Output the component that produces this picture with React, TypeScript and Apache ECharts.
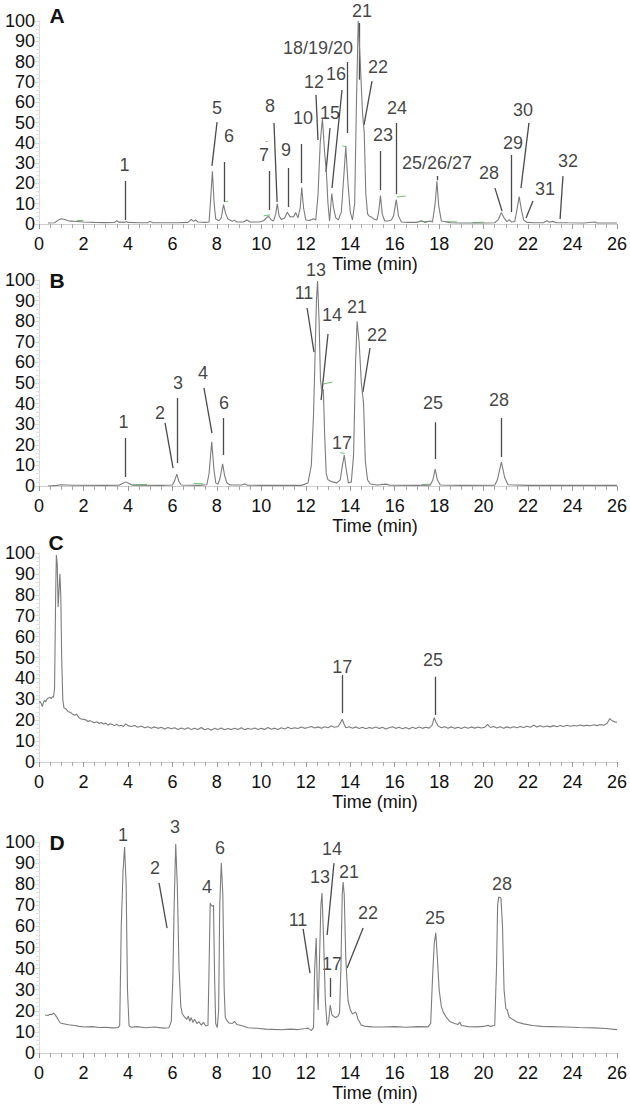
import React, { useEffect, useRef } from "react";
import * as echarts from "echarts";

const FONT = "Liberation Sans, Arial, Helvetica, sans-serif";

const xTicks = [0, 2, 4, 6, 8, 10, 12, 14, 16, 18, 20, 22, 24, 26];
const yTicks = [0, 10, 20, 30, 40, 50, 60, 70, 80, 90, 100];
const panelLetters = ["A", "B", "C", "D"];
const axisTitle = "Time (min)";

// Panel A trace [time(min), relative abundance]
const traceA: number[][] = [
  [0.4, 0.5], [0.7, 0.6], [0.85, 1.8], [1.0, 2.6], [1.15, 2.2], [1.4, 1.4], [1.7, 1.2], [2.0, 1.0], [2.5, 0.8],
  [3.0, 0.7], [3.4, 0.8], [3.5, 1.6], [3.6, 0.9], [3.85, 0.8], [3.92, 1.2], [4.0, 0.8], [4.5, 0.6], [4.9, 0.7],
  [5.0, 1.3], [5.1, 0.7], [5.6, 0.6], [6.2, 0.6], [6.7, 0.8], [6.85, 2.3], [6.95, 1.3], [7.05, 2.0], [7.15, 1.0],
  [7.5, 0.8], [7.65, 1.0], [7.72, 12], [7.8, 26], [7.88, 10], [7.95, 2.5], [8.1, 1.6], [8.2, 3], [8.3, 9.5],
  [8.4, 5], [8.5, 2.5], [8.7, 1.3], [8.78, 1.9], [8.9, 1.0], [9.2, 1.0], [9.35, 2.0], [9.5, 1.0], [9.9, 1.0],
  [10.1, 1.6], [10.25, 3.2], [10.33, 3.8], [10.45, 2.0], [10.55, 1.5], [10.65, 5], [10.72, 10], [10.8, 4],
  [10.9, 2.2], [11.05, 3], [11.17, 5.8], [11.3, 3.5], [11.45, 3.6], [11.55, 5.6], [11.65, 3], [11.75, 8],
  [11.82, 18], [11.9, 8], [12.0, 2.0], [12.2, 1.8], [12.35, 2.6], [12.45, 2.0], [12.55, 14], [12.65, 40],
  [12.75, 52], [12.85, 35], [12.93, 25], [13.0, 10], [13.07, 1.5], [13.12, 8], [13.17, 15], [13.25, 8],
  [13.35, 3], [13.47, 2.0], [13.6, 6], [13.72, 25], [13.8, 38], [13.9, 20], [14.0, 6], [14.1, 2], [14.2, 10],
  [14.28, 60], [14.36, 100], [14.45, 80], [14.55, 55], [14.63, 45], [14.7, 15], [14.78, 5], [14.85, 4],
  [14.95, 3.5], [15.05, 2.5], [15.2, 2], [15.28, 6], [15.36, 14], [15.44, 5], [15.55, 1.5], [15.7, 1.5],
  [15.85, 2.0], [15.95, 4], [16.07, 12], [16.17, 4], [16.3, 1.0], [16.6, 0.8], [17.0, 0.8], [17.2, 1.6],
  [17.35, 0.8], [17.6, 1.5], [17.7, 1.0], [17.82, 10], [17.9, 21], [17.98, 9], [18.1, 1.5], [18.5, 0.6],
  [19.0, 0.5], [19.5, 0.5], [20.0, 0.5], [20.5, 0.6], [20.65, 2], [20.8, 5.5], [20.95, 2.5], [21.05, 1.2],
  [21.15, 2.2], [21.25, 1.0], [21.4, 1.2], [21.5, 7], [21.6, 13.5], [21.7, 7], [21.8, 2], [21.95, 0.8],
  [22.3, 0.6], [22.7, 0.7], [22.85, 1.6], [22.95, 0.9], [23.1, 1.3], [23.25, 0.7], [23.8, 0.6], [24.5, 0.5],
  [25.0, 1.0], [25.1, 0.5], [25.6, 0.5], [26.0, 0.5],
];

const traceB: number[][] = [
  [0.4, 0], [0.8, 0.3], [1.0, 0.6], [1.5, 0.4], [3.0, 0.3], [3.6, 0.4], [3.75, 1.2], [3.9, 2.0], [4.05, 1.2],
  [4.2, 0.4], [5.5, 0.3], [6.0, 0.5], [6.1, 2.5], [6.2, 5.8], [6.3, 2], [6.4, 0.5], [7.2, 0.3], [7.55, 0.6],
  [7.65, 6], [7.77, 21.5], [7.87, 8], [7.95, 1.5], [8.05, 0.8], [8.15, 4], [8.26, 10.7], [8.35, 5], [8.45, 1.5],
  [8.6, 0.5], [9.1, 0.5], [9.25, 1.0], [9.4, 0.4], [10.0, 0.3], [11.0, 0.3], [11.8, 0.3], [12.1, 1.5],
  [12.25, 10], [12.35, 35], [12.42, 64], [12.48, 90], [12.53, 99.5], [12.6, 80], [12.66, 52], [12.72, 46],
  [12.79, 47], [12.85, 25], [12.92, 6], [13.0, 3], [13.2, 2], [13.4, 1.5], [13.55, 3], [13.65, 10], [13.73, 15],
  [13.82, 8], [13.92, 1.5], [14.05, 2], [14.15, 15], [14.24, 60], [14.31, 80], [14.4, 70], [14.5, 50],
  [14.6, 40], [14.68, 12], [14.78, 3], [14.9, 1.0], [15.2, 0.5], [15.6, 0.9], [15.8, 0.4], [17.0, 0.3],
  [17.6, 0.4], [17.72, 3], [17.82, 8.2], [17.92, 3], [18.05, 0.5], [19.0, 0.3], [20.5, 0.4], [20.62, 3],
  [20.8, 11.6], [20.95, 4], [21.1, 0.6], [22.0, 0.3], [24.0, 0.3], [26.0, 0.3],
];

const traceC: number[][] = [
  [0.0, 28.5], [0.05, 29], [0.1, 28], [0.15, 26.5], [0.2, 28.5], [0.25, 29.5], [0.3, 28.8], [0.35, 30],
  [0.4, 30.5], [0.5, 31], [0.55, 30.3], [0.6, 31.2], [0.65, 31], [0.7, 35], [0.75, 80], [0.78, 99], [0.82, 95],
  [0.86, 74], [0.9, 82], [0.94, 90], [0.98, 80], [1.02, 50], [1.07, 30], [1.12, 26], [1.2, 25.5], [1.3, 24.2],
  [1.4, 23.8], [1.5, 23], [1.6, 22.4], [1.7, 22.8], [1.8, 21.2], [1.9, 20.6], [2.0, 20.4], [2.1, 20.2],
  [2.2, 19.4], [2.3, 19.8], [2.4, 19.2], [2.5, 18.8], [2.6, 19.3], [2.7, 18.4], [2.8, 18.9], [2.9, 18.2],
  [3.0, 18.6], [3.1, 17.6], [3.2, 18.3], [3.3, 17.9], [3.4, 17.4], [3.5, 18.1], [3.6, 17.2], [3.7, 17.6],
  [3.8, 17.0], [3.9, 18.2], [4.0, 17.4], [4.15, 17.0], [4.3, 17.5], [4.45, 16.6], [4.6, 17.2], [4.75, 16.4],
  [4.9, 16.9], [5.05, 16.2], [5.2, 16.8], [5.35, 16.1], [5.5, 16.6], [5.65, 15.8], [5.8, 16.5], [5.95, 15.9],
  [6.1, 16.4], [6.25, 15.6], [6.4, 16.3], [6.55, 15.7], [6.7, 16.4], [6.85, 15.5], [7.0, 16.2], [7.15, 15.6],
  [7.3, 16.5], [7.45, 15.4], [7.6, 16.0], [7.75, 15.2], [7.9, 16.1], [8.05, 15.5], [8.2, 16.3], [8.35, 15.4],
  [8.5, 16.0], [8.65, 15.5], [8.8, 16.2], [8.95, 15.6], [9.1, 16.4], [9.25, 15.5], [9.4, 16.0], [9.55, 15.7],
  [9.7, 16.3], [9.85, 15.5], [10.0, 16.1], [10.15, 15.6], [10.3, 16.5], [10.45, 15.7], [10.6, 16.2],
  [10.75, 15.6], [10.9, 16.4], [11.05, 15.8], [11.2, 16.6], [11.35, 15.9], [11.5, 16.4], [11.65, 16.0],
  [11.8, 16.7], [11.95, 16.1], [12.1, 16.5], [12.25, 17.0], [12.4, 16.3], [12.55, 16.8], [12.7, 16.2],
  [12.85, 16.9], [13.0, 16.4], [13.15, 17.2], [13.3, 16.6], [13.45, 17.0], [13.55, 18.5], [13.64, 20.5],
  [13.72, 18.2], [13.8, 16.4], [13.95, 16.9], [14.1, 16.2], [14.25, 16.8], [14.4, 16.0], [14.55, 16.6],
  [14.7, 15.9], [14.85, 16.5], [15.0, 16.1], [15.15, 16.7], [15.3, 16.0], [15.45, 16.6], [15.6, 15.8],
  [15.75, 16.4], [15.9, 16.9], [16.05, 16.1], [16.2, 16.6], [16.35, 15.9], [16.5, 16.5], [16.65, 15.8],
  [16.8, 16.6], [16.95, 16.0], [17.1, 16.7], [17.25, 16.1], [17.4, 16.6], [17.55, 16.2], [17.68, 17.5],
  [17.78, 21.2], [17.86, 19.0], [17.95, 17.2], [18.1, 16.4], [18.25, 16.9], [18.4, 16.2], [18.55, 16.8],
  [18.7, 16.1], [18.85, 16.6], [19.0, 16.0], [19.15, 16.7], [19.3, 16.1], [19.45, 16.8], [19.6, 16.2],
  [19.75, 16.7], [19.9, 16.3], [20.05, 16.6], [20.18, 18.0], [20.3, 16.5], [20.45, 17.0], [20.6, 16.3],
  [20.75, 16.9], [20.9, 16.2], [21.05, 16.8], [21.2, 16.3], [21.35, 16.9], [21.5, 16.4], [21.65, 17.0],
  [21.8, 16.5], [21.95, 17.1], [22.1, 16.6], [22.25, 17.6], [22.4, 16.8], [22.55, 17.3], [22.7, 16.7],
  [22.85, 17.2], [23.0, 16.8], [23.15, 17.4], [23.3, 16.9], [23.45, 17.5], [23.6, 17.0], [23.75, 17.6],
  [23.9, 17.1], [24.05, 17.5], [24.2, 17.2], [24.35, 17.7], [24.5, 17.3], [24.65, 17.6], [24.8, 17.3],
  [24.95, 17.8], [25.1, 17.4], [25.25, 17.9], [25.4, 17.6], [25.55, 18.4], [25.68, 20.8], [25.8, 19.6],
  [25.9, 19.2], [26.0, 19.0],
];

const traceD: number[][] = [
  [0.27, 18], [0.4, 17.8], [0.5, 18.4], [0.6, 18.3], [0.66, 18.9], [0.72, 18.2], [0.8, 17], [0.88, 15.5],
  [0.96, 14.2], [1.1, 13.9], [1.33, 13.4], [1.6, 13.0], [1.8, 12.6], [2.07, 12.3], [2.4, 12.5], [2.7, 12.1],
  [3.0, 12.2], [3.3, 11.9], [3.55, 12.0], [3.63, 13], [3.7, 60], [3.78, 86], [3.85, 97.6], [3.92, 80],
  [3.98, 30], [4.05, 13], [4.15, 12.2], [4.4, 12.5], [4.8, 12.0], [5.2, 12.3], [5.6, 11.8], [5.85, 12.0],
  [5.95, 15], [6.02, 35], [6.08, 70], [6.15, 99], [6.22, 80], [6.3, 40], [6.38, 22], [6.45, 18.5], [6.55, 17],
  [6.65, 16], [6.72, 17.5], [6.78, 15], [6.85, 16.8], [6.92, 14.5], [7.0, 16], [7.1, 14], [7.2, 14.8],
  [7.3, 13.2], [7.4, 14.5], [7.5, 12.8], [7.6, 13], [7.65, 40], [7.7, 71], [7.75, 70], [7.8, 69.5], [7.85, 70],
  [7.9, 35], [7.95, 14], [8.02, 12], [8.08, 20], [8.13, 70], [8.2, 90], [8.27, 75], [8.33, 30], [8.38, 17],
  [8.45, 15.5], [8.55, 14.2], [8.7, 14], [8.8, 15], [8.9, 13.5], [9.1, 13], [9.4, 12], [9.8, 11.7],
  [10.2, 11.3], [10.5, 11.2], [10.9, 11.0], [11.3, 11.3], [11.65, 11.1], [12.0, 11.6], [12.1, 11.8],
  [12.25, 10.6], [12.35, 12], [12.4, 40], [12.47, 54.5], [12.52, 30], [12.56, 20.4], [12.62, 45], [12.68, 70],
  [12.73, 75.8], [12.8, 55], [12.88, 25], [12.96, 13], [13.03, 15], [13.1, 22.7], [13.18, 18], [13.3, 17],
  [13.35, 16.8], [13.45, 17.5], [13.52, 19], [13.58, 40], [13.64, 75], [13.68, 81], [13.73, 75], [13.8, 45],
  [13.9, 25], [14.0, 20.5], [14.1, 18.5], [14.25, 19.5], [14.35, 16], [14.5, 13.2], [14.7, 12.6], [15.0, 12.4],
  [15.5, 12.3], [16.0, 12.5], [16.5, 12.2], [17.0, 12.5], [17.5, 12.4], [17.62, 14], [17.7, 35], [17.78, 52],
  [17.85, 56.9], [17.92, 45], [18.0, 30], [18.1, 22], [18.2, 19], [18.35, 16.5], [18.5, 14.8], [18.7, 14],
  [18.85, 13.5], [18.93, 14.6], [19.0, 13], [19.3, 12.5], [19.7, 12.4], [20.0, 12.6], [20.2, 13.1],
  [20.3, 12.6], [20.5, 13], [20.58, 40], [20.63, 70], [20.68, 73.9], [20.78, 73.5], [20.85, 60], [20.92, 30],
  [21.0, 21], [21.06, 20.5], [21.15, 17], [21.3, 16], [21.5, 14.7], [21.8, 13.8], [22.2, 13], [22.6, 12.6],
  [23.0, 12.5], [23.7, 12.3], [24.3, 12.1], [25.0, 11.9], [25.5, 11.6], [26.0, 11.1],
];

// Peak labels [time, abundance, text] (text centre)
const labelsA: (number | string)[][] = [
  [3.85, 29, "1"], [8.01, 57, "5"], [8.55, 43.3, "6"], [10.12, 34, "7"], [10.39, 58, "8"], [11.11, 36.5, "9"],
  [11.88, 52.2, "10"], [12.37, 70, "12"], [12.55, 86.7, "18/19/20"], [13.36, 73.9, "16"], [13.09, 54.7, "15"],
  [14.53, 104.9, "21"], [15.25, 77.3, "22"], [15.47, 43.8, "23"], [16.1, 57.1, "24"], [17.9, 30, "25/26/27"],
  [20.24, 25.1, "28"], [21.32, 39.9, "29"], [21.77, 56.2, "30"], [22.76, 17.2, "31"], [23.8, 31, "32"],
];
const labelsB: (number | string)[][] = [
  [3.8, 31, "1"], [5.44, 35.4, "2"], [6.25, 50, "3"], [7.38, 54.9, "4"], [8.32, 40.3, "6"], [11.92, 93.7, "11"],
  [12.46, 104.9, "13"], [13.18, 83, "14"], [13.63, 20.9, "17"], [14.3, 86.9, "21"], [15.2, 73.3, "22"],
  [17.72, 40.3, "25"], [20.69, 41.7, "28"],
];
const labelsC: (number | string)[][] = [
  [13.64, 45.6, "17"], [17.72, 48.8, "25"],
];
const labelsD: (number | string)[][] = [
  [3.78, 103.3, "1"], [5.22, 87.7, "2"], [6.12, 107, "3"], [7.56, 78.7, "4"], [8.14, 97.2, "6"],
  [11.65, 63, "11"], [12.64, 83.4, "13"], [13.18, 96.7, "14"], [13.18, 42.2, "17"], [13.95, 85.8, "21"],
  [14.8, 66.4, "22"], [17.81, 64, "25"], [20.83, 80.1, "28"],
];

// Leader lines [t1, v1, t2, v2]
const leadersA: number[][] = [
  [3.87, 21.2, 3.87, 2], [8.01, 50.2, 7.78, 28.6], [8.32, 30.5, 8.32, 10.8], [10.35, 26.1, 10.35, 6.9],
  [10.57, 49.8, 10.71, 10.8], [11.2, 27.6, 11.2, 8.4], [11.79, 39.4, 11.79, 20.2], [12.46, 63.5, 12.55, 41.4],
  [13.86, 79.8, 13.86, 44.8], [13.63, 66, 13.18, 17.7], [13.09, 47.3, 12.91, 25.6], [14.39, 99, 14.39, 71],
  [14.98, 70.4, 14.62, 48.8], [15.34, 36, 15.34, 16.7], [16.06, 49.8, 16.06, 14.8], [17.9, 23.6, 17.9, 21.5],
  [20.51, 17.7, 20.83, 6.4], [21.23, 34, 21.23, 5.9], [22.04, 49.8, 21.68, 17.7], [22.22, 11.3, 21.91, 3],
  [23.57, 23.6, 23.44, 2.5],
];
const leadersB: number[][] = [
  [3.87, 23.3, 3.87, 4.4], [5.67, 30.6, 6.03, 8.7], [6.21, 42.7, 6.21, 11.2], [7.42, 47.6, 7.78, 25.7],
  [8.28, 33, 8.28, 15], [12.06, 86.4, 12.37, 65], [13.0, 73.8, 12.69, 41.7], [14.89, 67, 14.57, 45.6],
  [17.81, 31, 17.81, 13.1], [20.78, 33, 20.78, 14.1],
];
const leadersC: number[][] = [
  [13.64, 41.6, 13.64, 23.4], [17.81, 40.8, 17.81, 22.5],
];
const leadersD: number[][] = [
  [5.4, 80.6, 5.76, 59.2], [11.88, 58.8, 12.19, 37.9], [13.27, 90, 12.96, 55.9], [13.09, 35.5, 13.09, 26.5],
  [14.58, 59.2, 13.86, 40.3],
];

// Small green integration marks [t1, v1, t2, v2]
const greenA: number[][] = [
  [1.7, 2, 2.0, 2], [10.1, 4, 10.4, 4.5], [10.2, 41, 10.28, 41], [8.4, 11, 8.5, 11.3], [13.65, 38.5, 13.85, 38],
  [16.1, 13.3, 16.5, 13.8], [17.15, 1.6, 17.6, 1.6], [18.3, 1.2, 18.8, 1.0], [19.5, 0.7, 20.0, 0.9],
];
const greenB: number[][] = [
  [4.2, 0.6, 4.85, 0.8], [6.95, 1.3, 7.4, 1.0], [12.8, 49.5, 13.2, 50.5], [13.55, 16.2, 13.75, 15.8],
  [17.2, 0.6, 17.6, 0.9],
];

const traces = [traceA, traceB, traceC, traceD];
const labels = [labelsA, labelsB, labelsC, labelsD];
const leaders = [leadersA, leadersB, leadersC, leadersD];
const greens = [greenA, greenB, [], []];

export default function App() {
  const ref = useRef<HTMLDivElement>(null);
  useEffect(() => {
    if (!ref.current) return;
    const chart = echarts.init(ref.current, null, { renderer: "svg" });
    const gridPos = [
      { top: 21, height: 203 },
      { top: 280, height: 206 },
      { top: 553, height: 209 },
      { top: 842, height: 211 },
    ];
    const letterPos = [
      [57, 15],
      [57, 280],
      [56, 542],
      [57, 842],
    ];
    const grid = gridPos.map((g) => ({ left: 39, right: 13, top: g.top, height: g.height }));
    const xAxis = gridPos.map((_, i) => ({
      gridIndex: i,
      type: "value",
      min: xTicks[0],
      max: xTicks[xTicks.length - 1],
      interval: xTicks[1] - xTicks[0],
      axisLine: { show: true, lineStyle: { color: "#cfcfcf", width: 1 } },
      axisTick: { show: true, length: 5, lineStyle: { color: "#9a9a9a" } },
      minorTick: { show: true, splitNumber: 4, length: 4, lineStyle: { color: "#a8a8a8" } },
      splitLine: { show: false },
      axisLabel: { fontSize: 18, color: "#111", margin: 11, fontFamily: FONT },
      name: axisTitle,
      nameLocation: "middle",
      nameGap: 31,
      nameTextStyle: { fontSize: 18, color: "#111", fontFamily: FONT, padding: [0, 0, 0, 94] },
    }));
    const yAxis = gridPos.map((_, i) => ({
      gridIndex: i,
      type: "value",
      min: yTicks[0],
      max: yTicks[yTicks.length - 1],
      interval: yTicks[1] - yTicks[0],
      axisLine: { show: true, lineStyle: { color: "#dcdcdc" } },
      axisTick: { show: true, length: 4, lineStyle: { color: "#d8d8d8" } },
      minorTick: { show: true, splitNumber: 5, length: 3, lineStyle: { color: "#e2e2e2" } },
      splitLine: { show: false },
      axisLabel: { fontSize: 18, color: "#111", margin: 4, fontFamily: FONT },
    }));
    const series: any[] = [];
    traces.forEach((tr, i) => {
      series.push({
        type: "line",
        xAxisIndex: i,
        yAxisIndex: i,
        data: tr,
        symbol: "none",
        lineStyle: { color: "#7c7c7c", width: 1.1 },
        silent: true,
      });
      if (greens[i].length) {
        series.push({
          type: "lines",
          coordinateSystem: "cartesian2d",
          xAxisIndex: i,
          yAxisIndex: i,
          data: greens[i].map((l) => ({ coords: [[l[0], l[1]], [l[2], l[3]]] })),
          lineStyle: { color: "#6cc36c", width: 1, opacity: 1 },
          silent: true,
        });
      }
      series.push({
        type: "lines",
        coordinateSystem: "cartesian2d",
        xAxisIndex: i,
        yAxisIndex: i,
        data: leaders[i].map((l) => ({ coords: [[l[0], l[1]], [l[2], l[3]]] })),
        lineStyle: { color: "#4a4a4a", width: 1.3, opacity: 1 },
        silent: true,
      });
      series.push({
        type: "scatter",
        xAxisIndex: i,
        yAxisIndex: i,
        clip: false,
        symbolSize: 1,
        itemStyle: { color: "rgba(0,0,0,0)" },
        data: labels[i].map((l) => ({ value: [l[0], l[1]], name: String(l[2]) })),
        label: {
          show: true,
          position: "inside",
          formatter: (p: any) => p.name,
          fontSize: 18,
          color: "#111",
          fontFamily: FONT,
        },
        silent: true,
      });
    });
    const graphic = panelLetters.map((t, i) => ({
      type: "text",
      x: letterPos[i][0],
      y: letterPos[i][1],
      style: {
        text: t,
        align: "center",
        verticalAlign: "middle",
        font: `bold 21px ${FONT}`,
        fill: "#111",
      },
    }));
    chart.setOption({
      animation: false,
      backgroundColor: "#fff",
      grid,
      xAxis,
      yAxis,
      series,
      graphic,
    } as any);
    return () => chart.dispose();
  }, []);
  return (
    <div
      ref={ref}
      style={{ position: "absolute", left: 0, top: 0, width: 630, height: 1109 }}
    />
  );
}
